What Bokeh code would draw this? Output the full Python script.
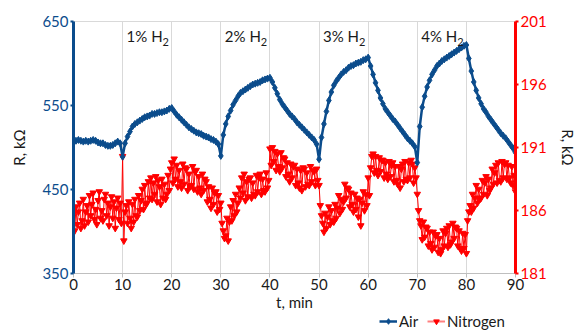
from bokeh.plotting import figure
from bokeh.layouts import column
from bokeh.models import Range1d, LinearAxis, Legend, LegendItem, FixedTicker, ColumnDataSource
from bokeh.embed import file_html
from bokeh.resources import INLINE
from bokeh.core.properties import value

# ---------------- data ----------------
air_time = [i * 0.5 for i in range(181)]
air_kohm = [
    509, 508, 509, 508, 507, 508, 507, 508, 509, 508, 506, 505, 505, 503, 502, 502, 503, 505, 507, 505, 489,
    505, 513, 519, 525, 528, 530, 532, 534, 536, 537, 538, 540, 540, 541, 542, 542, 543, 544, 546, 547,
    543, 539, 536, 533, 530, 527, 524, 522, 520, 518, 517, 516, 514, 513, 512, 510, 509, 507, 504, 490,
    515, 528, 537, 544, 551, 556, 561, 565, 567, 569, 571, 573, 575, 576, 577, 578, 580, 581, 582, 583,
    578, 571, 564, 557, 552, 548, 544, 540, 537, 534, 530, 527, 524, 521, 518, 515, 512, 509, 504, 486,
    512, 528, 543, 556, 566, 574, 579, 583, 587, 590, 592, 595, 597, 598, 600, 601, 602, 604, 605, 607,
    597, 587, 577, 568, 559, 552, 546, 542, 538, 534, 531, 527, 523, 519, 515, 511, 508, 505, 501, 482,
    525, 548, 561, 572, 580, 587, 592, 597, 600, 603, 605, 607, 609, 611, 613, 615, 617, 619, 621, 622,
    606, 591, 578, 568, 559, 552, 546, 542, 537, 533, 529, 525, 521, 517, 514, 511, 507, 503, 499, 494,
]

n2_time = [i * 0.25 for i in range(361)]
nitrogen_kohm = [
    185.8, 184.4, 186.3, 184.9, 185.9, 186.6, 184.6, 185.2, 186.9, 184.8, 185.9, 186.4,
    185.1, 187.2, 185.6, 186.5, 187.4, 185.3, 186.1, 184.9, 186.8, 187.5, 185.4, 186.0,
    185.2, 186.9, 187.3, 185.6, 186.6, 184.8, 186.3, 187.1, 185.4, 186.7, 184.6, 186.2,
    187.0, 185.3, 186.6, 185.0,
    190.3, 183.6, 185.9, 186.4, 185.0, 186.7, 185.4, 184.6, 186.5, 185.1, 186.9, 185.6,
    185.5, 187.2, 186.0, 186.8, 187.7, 186.1, 188.0, 186.5, 186.6, 188.3, 187.0, 188.6,
    186.9, 188.2, 187.3, 188.7, 186.7, 188.4, 187.9, 186.5, 188.5, 187.0, 188.1, 186.9,
    187.3, 188.8, 187.6, 189.3,
    189.8, 188.2, 190.1, 188.5, 189.6, 187.9, 189.2, 188.3, 187.8, 189.7, 188.1, 189.4,
    189.3, 187.6, 188.9, 187.9, 188.0, 189.5, 187.7, 189.1, 189.2, 187.5, 188.7, 187.8,
    187.3, 188.9, 187.6, 188.5, 188.3, 186.7, 187.9, 186.9, 186.2, 187.8, 186.5, 187.4,
    187.5, 185.9, 187.2, 186.1,
    186.6, 185.0, 184.4, 183.8, 184.0, 185.4, 183.6, 185.1, 186.3, 185.2, 186.8, 185.6,
    187.3, 185.9, 186.6, 187.8, 187.0, 188.6, 187.4, 188.9, 186.8, 188.3, 187.1, 188.5,
    188.6, 187.0, 188.2, 187.3, 187.2, 188.8, 187.5, 188.6, 188.9, 187.3, 188.5, 187.6,
    187.5, 189.0, 187.8, 188.4,
    190.9, 189.6, 191.0, 189.9, 190.7, 189.2, 190.5, 189.5, 189.1, 190.6, 189.4, 190.2,
    190.1, 188.7, 189.8, 188.9, 188.3, 189.7, 188.6, 189.5, 189.6, 188.0, 189.3, 188.2,
    187.8, 189.2, 187.6, 189.4, 189.3, 187.9, 189.0, 188.1, 188.0, 189.5, 188.3, 189.2,
    189.1, 188.0, 189.3, 188.4,
    188.0, 186.4, 185.6, 185.0, 184.3, 185.8, 184.6, 185.5, 186.3, 184.9, 186.0, 185.2,
    185.1, 186.5, 185.4, 186.2, 187.2, 185.8, 186.9, 186.1, 186.7, 188.1, 187.0, 187.8,
    187.7, 186.3, 187.4, 186.5, 185.9, 187.3, 186.1, 187.0, 185.5, 186.9, 184.8, 186.6,
    187.5, 186.0, 187.3, 186.4,
    188.6, 187.2, 189.4, 190.3, 190.5, 189.0, 190.3, 189.2, 188.8, 190.2, 189.1, 190.0,
    190.0, 188.6, 189.8, 188.9, 188.5, 189.9, 188.7, 189.6, 189.8, 188.3, 189.5, 188.4,
    188.1, 189.5, 187.8, 189.3, 189.7, 188.3, 189.9, 188.5, 188.4, 189.8, 188.6, 190.0,
    189.7, 188.2, 189.4, 188.6,
    187.3, 186.0, 185.2, 184.8, 183.7, 185.1, 183.9, 184.7, 184.6, 183.2, 184.3, 183.4,
    182.9, 184.3, 183.1, 184.0, 184.1, 182.7, 183.8, 182.6, 182.9, 184.4, 183.2, 184.2,
    184.6, 183.1, 184.8, 183.3, 183.5, 185.0, 183.8, 184.7, 184.6, 183.2, 184.4, 183.0,
    182.8, 184.2, 183.0, 184.1,
    182.6, 185.2, 185.9, 186.4, 185.9, 187.3, 186.2, 187.0, 188.0, 186.6, 187.7, 186.9,
    187.0, 188.4, 187.3, 188.2, 188.7, 187.2, 188.5, 187.6, 187.8, 189.3, 188.1, 189.0,
    189.6, 188.2, 189.8, 188.4, 188.3, 189.9, 188.6, 189.7, 189.8, 188.5, 189.6, 188.6,
    188.2, 189.5, 188.0, 188.8,
    187.5,
]

x_ticks = [0, 10, 20, 30, 40, 50, 60, 70, 80, 90]
left_ticks = [350, 450, 550, 650]
right_ticks = [181, 186, 191, 196, 201]
step_start = [10, 30, 50, 70]
step_labels = ["1% H", "2% H", "3% H", "4% H"]
step_subs = ["2", "2", "2", "2"]
series_names = ["Air", "Nitrogen"]

# ---------------- style ----------------
FONT = "Lato"
NAVY = "#0B4C8C"
RED = "#FF0000"
GRID = "#D9D9D9"
TXT = "#1A1A1A"
MAIN_H = 313
LEG_H = 18

p = figure(width=579, height=MAIN_H, output_backend="svg", toolbar_location=None,
           x_range=Range1d(0, 90), y_range=Range1d(350, 650),
           min_border_left=73, min_border_right=64, min_border_top=21, min_border_bottom=38)
p.extra_y_ranges = {"n2": Range1d(181, 201)}
p.outline_line_color = GRID
p.background_fill_color = "white"

# x axis
xa = p.xaxis[0]
xa.ticker = FixedTicker(ticks=x_ticks)
xa.axis_line_color = "#BFBFBF"
xa.major_tick_line_color = "#BFBFBF"
xa.major_tick_out = 4
xa.major_tick_in = 0
xa.minor_tick_line_color = None
xa.major_label_text_font = FONT
xa.major_label_text_font_size = "15px"
xa.major_label_text_color = TXT
xa.major_label_standoff = 1
xa.axis_label = "t, min"
xa.axis_label_text_font = FONT
xa.axis_label_text_font_size = "15px"
xa.axis_label_text_font_style = "normal"
xa.axis_label_text_color = TXT
xa.axis_label_standoff = 0

# left axis
ya = p.yaxis[0]
ya.ticker = FixedTicker(ticks=left_ticks)
ya.axis_line_color = NAVY
ya.axis_line_width = 3
ya.major_tick_line_color = NAVY
ya.major_tick_line_width = 2
ya.major_tick_out = 3
ya.major_tick_in = 0
ya.minor_tick_line_color = None
ya.major_label_text_font = FONT
ya.major_label_text_font_size = "15px"
ya.major_label_text_color = NAVY
ya.major_label_standoff = 2
ya.axis_label = "R, kΩ"
ya.axis_label_text_font = FONT
ya.axis_label_text_font_size = "15px"
ya.axis_label_text_font_style = "normal"
ya.axis_label_text_color = TXT
ya.axis_label_standoff = 11

# right axis
ra = LinearAxis(y_range_name="n2", ticker=FixedTicker(ticks=right_ticks))
ra.axis_line_color = RED
ra.axis_line_width = 3
ra.major_tick_line_color = RED
ra.major_tick_line_width = 2
ra.major_tick_out = 3
ra.major_tick_in = 0
ra.minor_tick_line_color = None
ra.major_label_text_font = FONT
ra.major_label_text_font_size = "15px"
ra.major_label_text_color = RED
ra.major_label_standoff = 2
ra.axis_label = "R, kΩ"
ra.axis_label_text_font = FONT
ra.axis_label_text_font_size = "15px"
ra.axis_label_text_font_style = "normal"
ra.axis_label_text_color = TXT
ra.axis_label_standoff = 9
p.add_layout(ra, "right")

# grids
p.xgrid.ticker = FixedTicker(ticks=x_ticks)
p.xgrid.grid_line_color = GRID
p.ygrid.visible = False

# series
n2_src = ColumnDataSource(dict(t=n2_time, r=nitrogen_kohm))
air_src = ColumnDataSource(dict(t=air_time, r=air_kohm))
p.line("t", "r", source=n2_src, y_range_name="n2", line_color=RED, line_width=1)
p.scatter("t", "r", source=n2_src, y_range_name="n2", marker="inverted_triangle",
          size=6.5, fill_color=RED, line_color=RED)
p.line("t", "r", source=air_src, line_color=NAVY, line_width=2.5)
p.scatter("t", "r", source=air_src, marker="diamond", size=7,
          fill_color=NAVY, line_color=NAVY)

# step labels (baselines placed by screen-pixel distance from the top of the frame)
px_per_unit = 254 / 300.0
base_main = 650 - 15 / px_per_unit
base_sub = 650 - 21 / px_per_unit
p.text(x=step_start, y=[base_main] * 4, text=step_labels, x_offset=4,
       text_font=value(FONT), text_font_size="15px", text_color=TXT,
       text_baseline="alphabetic", text_align="left")
p.text(x=step_start, y=[base_sub] * 4, text=step_subs, x_offset=40,
       text_font=value(FONT), text_font_size="11px", text_color=TXT,
       text_baseline="alphabetic", text_align="left")

# ---------------- legend strip (own small figure; its frame aligns with the main frame) ----------------
lg = figure(width=579, height=LEG_H, output_backend="svg", toolbar_location=None,
            x_range=Range1d(0, 1), y_range=Range1d(0, 1),
            min_border_left=0, min_border_right=0, min_border_top=0, min_border_bottom=0,
            x_axis_type=None, y_axis_type=None)
lg.outline_line_color = None
lg.grid.visible = False
# one off-range point per proxy renderer so the legend has something to draw its swatch from
proxy = ColumnDataSource(dict(x=[-5, -6], y=[-5, -6]))
air_l = lg.line("x", "y", source=proxy, line_color=NAVY, line_width=2.5)
air_m = lg.scatter("x", "y", source=proxy, marker="diamond", size=8, fill_color=NAVY, line_color=NAVY)
n2_l = lg.line("x", "y", source=proxy, line_color="#FF8080", line_width=2)
n2_m = lg.scatter("x", "y", source=proxy, marker="inverted_triangle", size=9, fill_color=RED, line_color=RED)

legend = Legend(items=[LegendItem(label=series_names[0], renderers=[air_l, air_m]),
                       LegendItem(label=series_names[1], renderers=[n2_l, n2_m])],
                location=(306, 1), orientation="horizontal",
                padding=0, margin=0, spacing=8, glyph_width=18, glyph_height=14,
                label_height=14, label_standoff=2,
                label_text_font=FONT, label_text_font_size="15px", label_text_color=TXT,
                border_line_alpha=0, background_fill_alpha=0)
lg.add_layout(legend)

layout = column(p, lg, spacing=0)
open("out.html", "w").write(file_html(layout, INLINE))
